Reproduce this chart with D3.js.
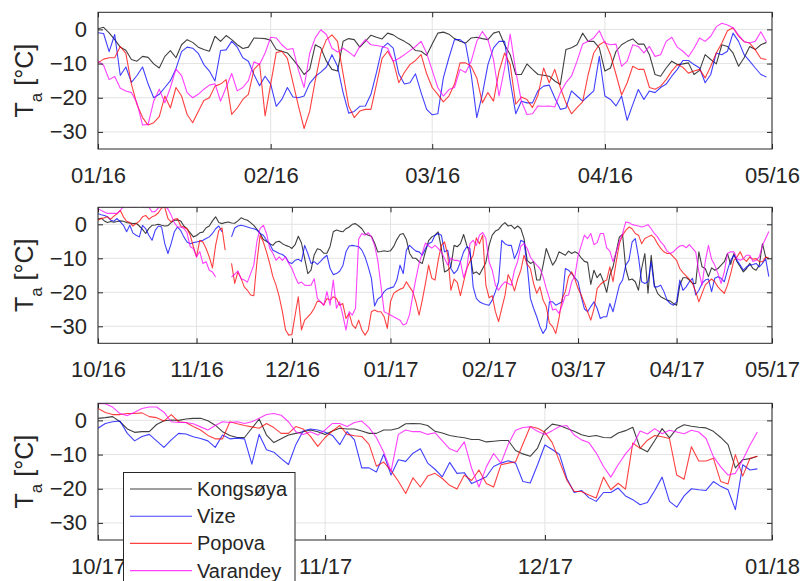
<!DOCTYPE html>
<html>
<head>
<meta charset="utf-8">
<script src="https://cdn.jsdelivr.net/npm/d3@7"></script>
<style>
  html, body { margin: 0; padding: 0; background: #ffffff; }
  svg { display: block; }
  text { font-family: "Liberation Sans", Arial, Helvetica, sans-serif; fill: #262626; }
</style>
</head>
<body>
<svg id="chart" width="803" height="581"></svg>
<script>
// Stations, in legend order, and their line colours
const stations = ["Kongsøya", "Vize", "Popova", "Varandey"];
const stationColors = ["#000000", "#0000ff", "#ff0000", "#ff00ff"];

// Shared value axis
const yDomain = [-35, 5];
const yTicks = [-30, -20, -10, 0];

// ---- Winter 2016: daily air temperature from 2016-01-01 ----
const p1Start = "2016-01-01", p1End = "2016-05-01";
const p1Kongsoya = [0.2,0.6,-1,-3,-5.2,-6.1,-8.8,-9.3,-7.9,-8.2,-10.1,-11.3,-7.9,-6.2,-8.3,-4.5,-3,-3.8,-5.2,-5.9,-6.4,-2,-3.5,-1.8,-3,-4.5,-5.6,-5.2,-2.5,-2.6,-2.7,-3.2,-5.9,-6.4,-6.9,-8.8,-10.8,-13.2,-11.7,-4.5,-5.4,-9.3,-11.7,-12.2,-3.5,-2.7,-3,-5.2,-3.5,-1.7,-2.3,-2.8,-1.1,-1.6,-2.7,-3.5,-4.5,-6.2,-6.4,-7.6,-4.3,
  -1.1,-0.8,-1.4,-2.7,-3.5,-4,-2.5,-2.3,-2.7,-3,-1.1,-0.6,-4.5,-7.4,-13.2,-13.2,-10.1,-11.7,-13.2,-13.4,-13.7,-15.1,-16.1,-5.9,-5.4,-4.5,-1.1,-3.5,-3.5,-5.4,-12.2,-11.3,-6.4,-4.5,-3.5,-2.8,-4.3,-4.3,-7.4,-13.2,-13.7,-11.3,-9.3,-10.3,-10.1,-9.8,-13.2,-12,-7.4,-8.8,-10.1,-4.5,-5,-6.9,-10.8,-8.3,-5,-5.9,-4.5,-3.8];
const p1Vize = [-1,-1.2,-6.5,-1.5,-13.5,-11,-15.5,-13.5,-11,-16,-20,-19,-17,-15,-11.5,-6.5,-5.2,-5.5,-7,-10.3,-12.2,-15.1,-6.2,-6,-3.5,-5.2,-8.3,-9.3,-13.2,-16.5,-13.7,-16,-22.5,-20.5,-17,-19.8,-20,-19.5,-15.8,-13.8,-12.5,-11,-7.4,-10.8,-18.5,-24.5,-24,-22.5,-22.4,-19,-12.6,-5.5,-4,-5.5,-13,-16,-15.6,-13,-18.5,-23.4,-25,
  -24.7,-14.2,-8.3,-3,-3,-4.3,-13.2,-25.8,-19,-10.3,-5.4,-3.5,-3.5,-15.1,-24.7,-21,-21.5,-21.5,-17.9,-16.6,-16.3,-20,-23.4,-23,-18,-19.5,-21,-19.5,-18,-7.9,-19.5,-20.5,-22.4,-19.5,-26.6,-22,-17.6,-20.5,-18,-18.5,-17,-16,-13.7,-11.7,-9.1,-9.1,-10.3,-11.3,-15.6,-13.2,-6.9,-7.4,-6.4,-1.1,-3.5,-7.4,-9.3,-11.3,-13.2,-13.9];
const p1Popova = [-9.8,-8.7,-8.3,-8.3,-5,-7,-16,-22,-25.8,-28,-27.3,-25.5,-19.5,-23,-17,-19.5,-24.9,-27.3,-24,-20.8,-20,-16.6,-16,-14.7,-24.9,-23,-20.5,-19,-11.7,-10,-25.3,-16,-6.8,-6.4,-8.5,-15.6,-22.5,-29,-24,-15,-7,-3,-1.6,-3.5,-13,-22.4,-25.8,-23.9,-23.4,-23.4,-16,-8.5,-6.4,-9.3,-15.6,-12.6,-10.3,-9.1,-7.4,-13,-17,
  -19,-21.2,-19.5,-16,-9.8,-9.8,-10.8,-14.2,-21.5,-18.5,-21,-12.2,-6.9,-10.3,-21.9,-19.8,-20.5,-22.9,-19.2,-11.3,-15.6,-11.7,-17,-21.5,-24.7,-22.9,-21.2,-13.2,-6.9,-4.5,-3.5,-7.4,-13.2,-19.2,-15.6,-10.8,-11.7,-11.7,-17,-17.5,-16.6,-14.7,-12.2,-10.3,-11.1,-12.8,-12.2,-11.7,-14.2,-10.8,-6.9,-4,-0.4,0.5,-2,-3.6,-4,-6,-8.5,-8.8];
const p1Varandey = [-9.3,-10.5,-14.7,-13.8,-17.2,-18,-18.5,-21.5,-28,-27.8,-21,-17.5,-21.5,-17,-11.6,-13.5,-18.5,-20,-19,-17.5,-16.3,-15.9,-21,-17,-12.9,-18,-17,-15,-9.5,-10.3,-6.9,-2.3,-2.5,-4.5,-5.9,-5.6,-12,-17,-7,-2.5,-0.1,-1.5,-5.5,-6.6,-5.5,-6.6,-7.9,-5,-3,-4.5,-4.7,-5,-5.5,-9.3,-8.5,-7.4,-6.2,-5,-3.5,-7,-12,
  -17,-19.5,-17.6,-17,-11.7,-12.6,-9.3,-3.5,-0.6,-3,-8.8,-19.5,-11.3,-1.4,-12.2,-21,-24.9,-24.7,-22.4,-22.5,-22.4,-22.7,-18.5,-15.6,-13.7,-9.3,-4.3,-3.5,-2.5,-0.4,-4,-4.5,-4.3,-10.8,-9.3,-4.5,-5,-6.9,-5,-7.9,-7.4,-3.5,-2.3,-5.2,-6.4,-8,-5.5,-2.5,-3.5,-2,0.8,1.8,1.3,0.5,-1.7,-3.6,-4,-3.5,-0.7,-3.6];

// ---- Winter 2016/17: daily air temperature from 2016-10-01 (null = no record) ----
const p2Start = "2016-10-01", p2End = "2017-05-01";
const p2Kongsoya = [1.5,1.8,1,0.5,0.8,0.6,0.8,1,0.9,0.5,0.4,0.2,0.3,-0.5,-1.5,-2.7,-1.2,-0.3,-0.2,0,-0.3,-0.5,-0.4,0.5,1.2,1.3,1,-0.5,-1.3,-2.5,-3.7,-3.3,-2.5,-2.3,-1,-0.5,1,2.2,0.5,0.2,0.5,0.7,0.4,0.3,1,1.9,1.5,1.2,0.5,-0.3,-1.5,-2.7,-4.5,-5,-5.7,-6.2,-5.2,-5,-5.7,-6.2,-6.5,-7.1,-6,-3.5,-5.5,-10,-14.5,-13.5,-9,-7.2,-7.5,-8.5,-8.5,-6.5,-2.2,-1.7,-2,-2.2,-1.3,-0.8,0,0.2,-0.5,-1.3,-2.8,-3.2,-3.5,-5.5,-8.1,-8,-7.8,-8,-7.8,-6.5,-4.5,-3,-2.7,-4.5,-8.5,-10,-10,-11,-11.5,-8,-4.8,
  -3.7,-3.2,-2.2,-7.1,-14,-13.5,-12.5,-6.2,-6.6,-5.7,-3,-6.2,-8.6,-14.5,-14,-14.8,-13,-11.2,-6.2,-3.2,-2,-1.5,-0.3,0.5,-0.5,-0.3,-1.3,-0.5,-1.3,-4.2,-10.6,-11.5,-11,-16.4,-16.4,-12,-7.1,-9.6,-12,-10.6,-8.1,-8.6,-9.1,-7.9,-8.6,-8.1,-8.6,-9.9,-10.9,-11.2,-17.7,-13.5,-15.7,-14.5,-16.9,-20,-15,-12.5,-8.1,-3.7,-3,-13,-16.4,-16.1,-16.9,-19.4,-13,-8.6,-20.3,-9.1,-17.9,-20.3,-21.3,-21.8,-22.3,-22.6,-23.3,-23.8,-17.9,-15.7,-15.7,-16.4,-17.4,-17.4,-8.1,-12.5,-13,-15.4,-12.8,-13.5,-13,-12,-11,-8.6,-11.8,-8.6,-11,-12.5,-14,-13,-11.5,-13,-13.5,-12,-5.7,-9.6,-10.1];
const p2Vize = [3.1,2.8,2.6,2.2,1.2,0.9,1.7,0.7,-0.3,-2.2,-0.3,-2.6,-3.2,-3.7,-0.3,-1.3,-3.2,-4.7,-1.8,-0.5,-0.8,-5.7,-8.6,-5.7,-2.2,-0.8,-1.8,-3.7,-5.2,-5.7,-5.4,-5.2,-5,-4.7,-4.2,-3.7,-2.7,-1.3,-0.5,-2.2,null,null,-3.7,-1.1,-0.5,-0.3,-0.5,-0.8,-1.1,-1.3,-1.7,-2.7,-3.2,-4.7,-5.7,-7.6,-8.1,-8.6,-8.9,-9.6,-11.2,-11.5,-10.6,-10.3,-10.9,-6.2,-8.6,-11.5,-11,-11.8,-10.9,-9.9,-9.1,-13,-14.8,-14.5,-13.8,-12.2,-8.1,-6.4,-6.2,-6.4,-6.6,-7.6,-9.6,-12.5,-15.9,-24,-22,-21.3,-19.8,-19,-18.7,-18.4,-16.4,-12,-14.5,-7.6,-6.2,-7.1,-7.9,-8.1,-9.1,-7.1,-5.7,
  -5.2,-3.2,-2.7,-3.2,-8.1,-7.6,-13,-14.5,-13.5,-11,-8.1,-6.6,-7.1,-18.4,-21.8,-22.8,-23.3,-23.6,-23.8,-22.3,-19.8,-16.9,-4.7,-5.7,-6.2,-6.2,-10.1,-8.1,-4.7,-5.2,-12,-21.8,-24.7,-27.2,-30.1,-32.1,-30.6,-22.8,-22.8,-23.8,-23.3,-22.8,-13,-13.5,-14.5,-15.7,-16.9,-21.3,-24.9,-25.7,-24.2,-22.8,-24.7,-27.7,-27.2,-27.2,-23.3,-25.7,-21.8,-17.9,-16.4,-12,-10.6,-5.2,-4.2,-9.6,-16.9,-17.4,-16.9,-11,-18.4,-18.4,-17.9,-19.8,-22.3,-23.3,-23.8,-22.8,-16.4,-19.4,-18.4,-16.9,-15.9,-20.8,-19.4,-17.4,-16.4,-16.1,-19.8,-15.9,-15.4,-15.9,-16.9,-13.5,-10.6,-9.1,-10.6,-12,-13.5,-12.5,-12,-11.8,-11.5,-12.5,-11.5,-10.1,-15.4];
const p2Popova = [1.2,1.7,1.9,2.2,1.5,2.4,3.1,4.1,2.2,0.9,0.5,-0.5,0.2,0.9,2.2,2.6,1.5,2.2,2.6,3.4,4.8,5,1.7,0.7,1.5,1.7,-0.5,-0.8,-1.3,-3.2,-6.6,-9.6,-4.7,-5.2,-7.1,-9.6,-12.8,-6.2,-1.8,-1.1,-7.6,null,-11.5,-17.4,-14,-15.9,-18.4,-19.4,-20.8,-21,-11,-3.2,-5.2,-8.1,-11.5,-15.4,-17.9,-21.3,-25.7,-31.1,-32.6,-32.4,-26.7,-21.3,-31.1,-28.2,-27.2,-26.2,-24.7,-22.6,-22.8,-23.8,-21.8,-22.3,-21.3,-21.8,-23.8,-23.3,-27.7,-26.2,-29.6,-30.6,-28.2,-31.1,-32.6,-31.1,-25.7,-25.2,-25.7,-25.7,-27.2,-30.6,-22.8,-20.3,-19.6,-19.1,-18.7,-16.9,-18.4,-19.8,-22.8,-26.7,-22.3,-17.4,-12,
  -15.9,-16.4,-10.6,-6.2,-5.2,-9.1,-19.4,-16.1,-17.1,-21,-16.9,-13,-10.9,-9.1,-4,-5.7,-3.2,-17.9,-21.6,-21,-25.7,-28.6,-24.7,-21,-14.8,-16.7,-19.6,-16.1,-13.5,-9.1,-11.8,-13,-17.4,-20.3,-18.4,-22.3,-24.2,-29.1,-30.1,-32.1,-27.7,-21.8,-19.8,-15.4,-14,-16.1,-18.9,-20.8,-23.3,-25.7,-28.2,-24.9,-18.9,-17.7,-16.9,-16.4,-12.5,-16.9,-11,-5.7,-3.2,-1.8,-0.8,-1.3,-2.7,-3.2,-5.7,-4.2,-3.7,-3.2,-4,-5.7,-7.1,-8.1,-8.6,-8.6,-9.6,-10.6,-13,-14.2,-15.2,-16.1,-17.4,-19.8,-22.8,-20.3,-17.9,-16.9,-16.1,-16.9,-18.4,-19.4,-20.3,-17.9,-14.5,-10.6,-9.6,-8.1,-10.1,-10.9,-9.6,-10.3,-10.1,-11,-11,-9.6,-9.9];
const p2Varandey = [4.5,4.1,3.6,3.2,3.2,3.2,3.2,4.1,5.2,5.4,5.2,5.1,5.2,5.5,5.1,5.2,5.1,3.6,3.8,4.8,5.2,5.4,4.5,2.7,0.5,-0.8,-0.8,-1.2,-2.5,-6.6,-7.1,-9.6,-8,-11.5,-11,-13.5,-14,-15.5,null,null,null,null,-15.5,-14.7,-13.7,-16,-16.4,-17,-14.5,-12,-5,-1.2,-0.3,-2.7,-7,-8.5,-10.6,-9.6,-10.6,-9.6,-11.5,-13,-15.4,-17.4,-17,-17.9,-18,-17.9,-16,-21.8,-22.8,-23.8,-19.8,-23.8,-16.4,-24.7,-22.8,-26.7,-31.1,-25.7,-26.7,-24.7,-4.3,-2.7,-3.2,-2.5,-3.7,-6.2,-10.6,-18,-25.7,-26.2,-26.7,-27.2,-27.7,-28.2,-29.6,-29.2,-26.5,-21,-16,-11.5,-8.5,-5.5,-6.3,
  -7,-6.2,-7.1,-8.1,-10.1,-12,-9.9,-10.6,-10.6,-11,-15.7,-13,-5.7,-4.7,-6.2,-3.2,-2.4,-4.2,-11,-13.5,-17.9,-19.4,-17.9,-16.9,-17.4,-17.9,-13.5,-10.9,-6.4,-5.7,-7.1,-9.6,-11,-12,-13,-15.4,-18.9,-21.8,-25.2,-24.9,-26.2,-23.8,-21,-20.8,-16.9,-15.2,-9.3,-6.2,-3.2,-4.2,-2.7,-6,-5.4,-2.7,-2.7,-6.9,-7.9,-11,-8.1,-5,-2.7,0.7,0.5,-0.1,-0.3,-0.5,-0.8,-0.5,-0.1,-1.3,-2.7,-3.7,-5.2,-6.2,-7.9,-8.6,-8.1,-7.1,-6.4,-6.2,-6.9,-6,-7.1,-8.1,-14,-17.9,-11,-6.2,-10.3,-12,-14.5,-17.4,-14,-8.6,-8.1,-8.1,-10.1,-10.6,-10.1,-9.1,-9.1,-10.9,-10.6,-9.6,-6.2,-4.2,-2.1];

// ---- Autumn 2017: daily air temperature from 2017-10-01 ----
const p3Start = "2017-10-01", p3End = "2018-01-01";
const p3Kongsoya = [0.6,0.8,1.1,-0.4,-2.5,-3.5,-3.3,-3.3,-1.2,-0.1,0.1,0,0.4,0.6,0.6,-0.1,-1.4,-3.3,-4.4,-5,-5,-2.3,0.4,-4.3,-6.5,-5.4,-4.3,-3.8,-3.3,-2.8,-3.3,-4.1,-3.1,-2.3,-2.5,-2.5,-3.1,-3.8,-3.8,-2.8,-2.8,-2.3,-1,-0.9,-1,-1.5,-3.2,-3.7,-4.4,-4.8,-5.1,-5.6,-5.6,-6.3,-6.1,-5.9,-5.9,-8.8,-9.8,-10.5,-8.1,-3,-1.1,-1.5,-2.4,-3.2,-4.2,-4.7,-4.4,-5,-5.1,-3.7,-3,-2,-8.1,-9.2,-5.9,-2.4,-5.1,-2.4,-1.3,-1.7,-2,-2.2,-3.2,-5,-7.1,-13.9,-11.5,-11.2,-10.5];
const p3Vize = [-2.3,-0.9,-0.4,-0.2,-3.8,-6,-4.7,-4.1,-6,-7.9,-5.7,-3.8,-4,-4.8,-5.3,-6,-7.9,-4.3,-5.4,-5.2,-5.4,-12.8,-4.1,-8.6,-9.3,-11.2,-12.9,-7.1,-3.1,-2.5,-2.8,-3.5,-4.4,-7.1,-3.3,-5.7,-13.9,-13.9,-15.1,-9.9,-16,-11.5,-12,-9.6,-8.3,-12.5,-14.3,-16.5,-12.3,-15.5,-15.3,-18.5,-17.5,-16.5,-13.5,-12.5,-11.8,-12.5,-17.9,-18.3,-13,-7.2,-8.5,-10,-17,-21.1,-20.5,-22.6,-23.7,-21.1,-21.1,-19.8,-22.1,-23.2,-24.7,-24,-20.5,-16.6,-23.7,-25.4,-22.1,-20,-20.3,-20.5,-17.9,-19.3,-20.3,-26.1,-13,-14.5,-14.2];
const p3Popova = [3.5,2.3,1.7,1.7,2,2,2.2,1.1,0.8,-0.2,1.7,-0.4,-0.6,-1.8,-2.8,-4.4,-5.4,-5.4,-0.4,-1,-1.5,-1.9,-2.3,-0.9,-2.1,-3.8,-3.8,-1.8,-2.5,-4.7,-7.6,-5,-3.1,-1.5,-4.1,-4.5,-4.7,-7,-13.4,-12.2,-14.7,-17.8,-21.4,-16.8,-19.5,-16.3,-15.5,-17,-19,-20.1,-16,-17.6,-14.5,-18.5,-19.5,-13,-12.5,-12.1,-6.9,-1.8,-2.3,-3.5,-6.5,-12,-17.5,-20.8,-20.8,-21.8,-22.7,-16.6,-20.3,-18.4,-20.1,-6.6,-8.2,-5.8,-4.4,-4.8,-5.3,-16,-17.2,-7.7,-11.9,-11.9,-11.1,-17.9,-18.6,-10,-16.3,-11.1,-10.5];
const p3Varandey = [4.9,4.9,3.9,2,1.4,2.4,3.5,3.9,3.9,2.4,-0.4,-0.6,-0.6,-1,-1.9,-2.8,-1.5,-0.4,-0.6,-0.4,-0.9,-0.4,0.6,1.7,2,1.5,-0.4,-3.3,-4.1,-3.3,-4.3,-2.8,-0.9,-0.9,-1.8,-0.6,-0.2,-2.1,-5,-9.3,-14.9,-4.1,-2.8,-3.3,-3.3,-4.1,-3.6,-6,-8.3,-9.2,-6.3,-14,-19.5,-13.6,-9.7,-12.5,-7,-2.9,-2.1,-1.9,-3.2,-4.1,-3,-1.8,-1.5,-4.3,-5.7,-6.5,-9.5,-13.5,-16.6,-13,-9.8,-7.3,-3.1,-4,-2.4,-3.9,-2.9,-3.4,-3.9,-2.9,-3.4,-5.3,-10.6,-13.6,-16,-15.5,-11.6,-7.2,-3.4];

// ---------------------------------------------------------------
const svg = d3.select("#chart");
const axisColor = "#262626";
const gridColor = "#e3e3e3";
const plotLeft = 98, plotRight = 772;
const tickFont = 22;

const panels = [
  { top: 12.3,  bottom: 149,   start: p1Start, end: p1End, series: [p1Kongsoya, p1Vize, p1Popova, p1Varandey] },
  { top: 207.3, bottom: 343.3, start: p2Start, end: p2End, series: [p2Kongsoya, p2Vize, p2Popova, p2Varandey] },
  { top: 403.3, bottom: 540,   start: p3Start, end: p3End, series: [p3Kongsoya, p3Vize, p3Popova, p3Varandey] }
];

const parseDay = d3.utcParse("%Y-%m-%d");
const fmtMonth = d3.utcFormat("%m/%y");

svg.append("rect").attr("width", 803).attr("height", 581).attr("fill", "#ffffff");

panels.forEach((p, pi) => {
  const t0 = parseDay(p.start), t1 = parseDay(p.end);
  const x = d3.scaleUtc().domain([t0, t1]).range([plotLeft, plotRight]);
  const y = d3.scaleLinear().domain(yDomain).range([p.bottom, p.top]);
  const months = d3.utcMonth.range(t0, d3.utcDay.offset(t1, 1));
  const g = svg.append("g");

  // grid
  g.append("g").selectAll("line").data(months).join("line")
    .attr("x1", d => x(d)).attr("x2", d => x(d))
    .attr("y1", p.top).attr("y2", p.bottom)
    .attr("stroke", gridColor).attr("stroke-width", 1);
  g.append("g").selectAll("line").data(yTicks).join("line")
    .attr("x1", plotLeft).attr("x2", plotRight)
    .attr("y1", d => y(d)).attr("y2", d => y(d))
    .attr("stroke", gridColor).attr("stroke-width", 1);

  // series
  const clipId = "plotclip" + pi;
  svg.append("defs").append("clipPath").attr("id", clipId)
    .append("rect").attr("x", plotLeft).attr("y", p.top)
    .attr("width", plotRight - plotLeft).attr("height", p.bottom - p.top);
  const line = d3.line()
    .defined(d => d.v !== null)
    .x(d => x(d.t)).y(d => y(d.v));
  const lines = g.append("g").attr("clip-path", `url(#${clipId})`);
  p.series.forEach((vals, si) => {
    const pts = vals.map((v, i) => ({ t: d3.utcDay.offset(t0, i), v }));
    lines.append("path").datum(pts)
      .attr("d", line)
      .attr("fill", "none")
      .attr("stroke", stationColors[si])
      .attr("stroke-opacity", 0.75)
      .attr("stroke-width", 1.1)
      .attr("stroke-linejoin", "round");
  });

  // axes (inward ticks on all four sides)
  const bottomAxis = d3.axisBottom(x).tickValues(months).tickFormat(fmtMonth)
    .tickSizeInner(-5).tickSizeOuter(0).tickPadding(18.5);
  const ab = g.append("g").attr("transform", `translate(0,${p.bottom})`).call(bottomAxis);
  const topAxis = d3.axisTop(x).tickValues(months).tickFormat("")
    .tickSizeInner(-5).tickSizeOuter(0);
  const at = g.append("g").attr("transform", `translate(0,${p.top})`).call(topAxis);
  const leftAxis = d3.axisLeft(y).tickValues(yTicks).tickFormat(d3.format("d"))
    .tickSizeInner(-5).tickSizeOuter(0).tickPadding(11);
  const al = g.append("g").attr("transform", `translate(${plotLeft},0)`).call(leftAxis);
  const rightAxis = d3.axisRight(y).tickValues(yTicks).tickFormat("")
    .tickSizeInner(-5).tickSizeOuter(0);
  const ar = g.append("g").attr("transform", `translate(${plotRight},0)`).call(rightAxis);
  [ab, at, al, ar].forEach(a => {
    a.select(".domain").remove();
    a.selectAll("line").attr("stroke", axisColor);
    a.selectAll("text").attr("fill", axisColor)
      .style("font-size", tickFont + "px")
      .style("font-family", '"Liberation Sans", Arial, Helvetica, sans-serif');
  });

  // box
  g.append("rect").attr("x", plotLeft).attr("y", p.top)
    .attr("width", plotRight - plotLeft).attr("height", p.bottom - p.top)
    .attr("fill", "none").attr("stroke", axisColor).attr("stroke-width", 1);

  // y label: T_a [°C]
  const cy = (p.top + p.bottom) / 2;
  const lab = g.append("text")
    .attr("transform", `translate(33,${cy}) rotate(-90)`)
    .attr("text-anchor", "middle")
    .style("font-size", "25px")
    .attr("fill", axisColor);
  lab.append("tspan").text("T");
  lab.append("tspan").attr("dy", 9).style("font-size", "17px").text("a");
  lab.append("tspan").attr("dy", -9).text(" [°C]");
});

// legend in the lowest panel
const lg = svg.append("g");
lg.append("rect").attr("x", 123.5).attr("y", 472.5).attr("width", 171.5).attr("height", 130)
  .attr("fill", "#ffffff").attr("stroke", axisColor).attr("stroke-width", 1);
stations.forEach((name, i) => {
  const ly = 489 + i * 27.2;
  lg.append("line").attr("x1", 130).attr("x2", 192).attr("y1", ly).attr("y2", ly)
    .attr("stroke", stationColors[i]).attr("stroke-opacity", 0.75).attr("stroke-width", 1.1);
  lg.append("text").attr("x", 197).attr("y", ly + 7)
    .style("font-size", "20px").attr("fill", "#000000").text(name);
});
</script>
</body>
</html>
